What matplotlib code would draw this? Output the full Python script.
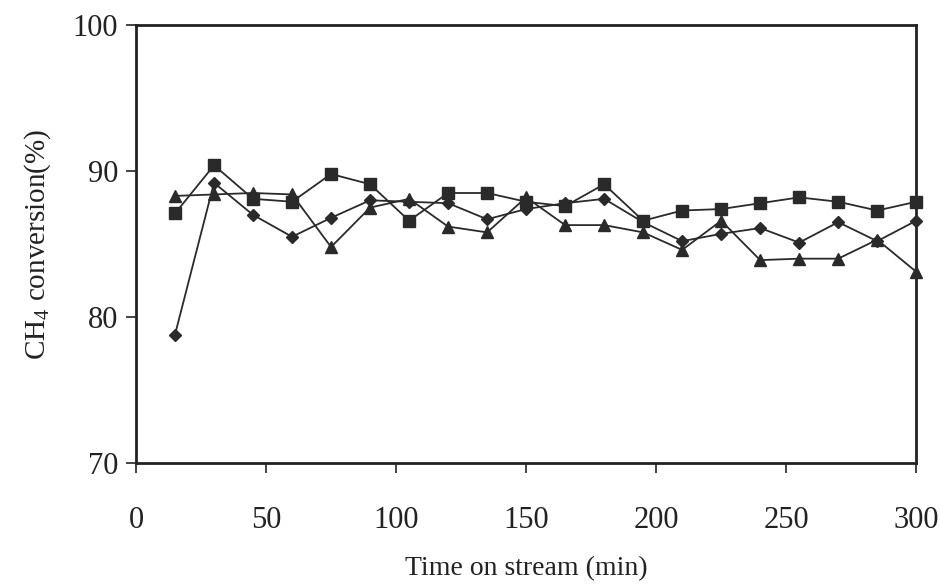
import matplotlib
matplotlib.use("Agg")
import matplotlib.pyplot as plt

plt.rcParams['font.family'] = ['Liberation Serif', 'DejaVu Serif']
plt.rcParams['mathtext.fontset'] = 'custom'
plt.rcParams['mathtext.rm'] = 'Liberation Serif'

time_min = [15, 30, 45, 60, 75, 90, 105, 120, 135, 150, 165, 180, 195, 210, 225, 240, 255, 270, 285, 300]
square_series = [87.1, 90.4, 88.1, 87.9, 89.8, 89.1, 86.6, 88.5, 88.5, 87.9, 87.6, 89.1, 86.6, 87.3, 87.4, 87.8, 88.2, 87.9, 87.3, 87.9]
diamond_series = [78.8, 89.2, 87.0, 85.5, 86.8, 88.0, 87.9, 87.8, 86.7, 87.4, 87.8, 88.1, 86.5, 85.2, 85.7, 86.1, 85.1, 86.5, 85.2, 86.6]
triangle_series = [88.3, 88.4, 88.5, 88.4, 84.8, 87.5, 88.1, 86.2, 85.8, 88.2, 86.3, 86.3, 85.8, 84.6, 86.6, 83.9, 84.0, 84.0, 85.3, 83.1]

x_ticks = [0, 50, 100, 150, 200, 250, 300]
y_ticks = [70, 80, 90, 100]

fig = plt.figure(figsize=(9.4, 5.86), dpi=100)
ax = fig.add_axes([0.1447, 0.21, 0.83, 0.747])

col = '#2a2a2a'
ax.plot(time_min, square_series, marker='s', markersize=8, color=col, lw=1.3, clip_on=False, zorder=3)
ax.plot(time_min, diamond_series, marker='D', markersize=6.5, color=col, lw=1.3, clip_on=False, zorder=3)
ax.plot(time_min, triangle_series, marker='^', markersize=9, color=col, lw=1.3, clip_on=False, zorder=3)

ax.set_xlim(0, 300)
ax.set_ylim(70, 100)
ax.set_xticks(x_ticks)
ax.set_yticks(y_ticks)
for s in ax.spines.values():
    s.set_linewidth(2.0)
    s.set_color('#222222')
ax.tick_params(axis='both', direction='out', length=7, width=1.2, labelsize=22, colors='#222222', pad=6)
ax.tick_params(axis='x', pad=24)
ax.set_xlabel('Time on stream (min)', fontsize=20, labelpad=15, color='#222222')
ax.set_ylabel(r'CH$_{4}$ conversion(%)', fontsize=21, labelpad=14, color='#222222')

fig.savefig('out.png', dpi=100)
